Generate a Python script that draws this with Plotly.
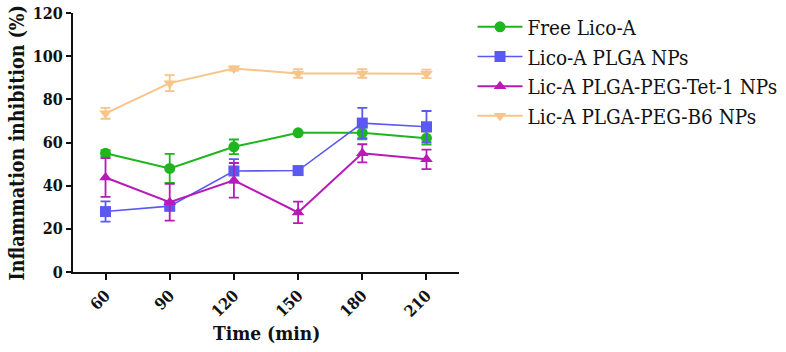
import plotly.graph_objects as go

time_min = [60, 90, 120, 150, 180, 210]
x_tick_labels = ["60", "90", "120", "150", "180", "210"]

free_lico = [55.0, 48.0, 58.0, 64.5, 64.5, 62.0]
free_lico_err = [1.5, 6.7, 3.4, 0.0, 3.0, 3.0]

lico_plga = [28.0, 30.5, 46.8, 47.0, 69.0, 67.3]
lico_plga_err = [4.7, 2.0, 5.5, 0.0, 7.0, 7.3]

tet1 = [43.8, 32.3, 42.5, 27.6, 55.0, 52.2]
tet1_err = [9.0, 8.5, 8.0, 5.0, 4.2, 4.5]

b6 = [73.5, 87.5, 94.3, 92.0, 92.0, 91.8]
b6_err = [2.5, 3.7, 1.0, 2.0, 2.0, 2.0]

series = [
    ("Free Lico-A", free_lico, free_lico_err, "#1fb51f", "circle", 2.0),
    ("Lico-A PLGA NPs", lico_plga, lico_plga_err, "#5a5af2", "square", 1.6),
    ("Lic-A PLGA-PEG-Tet-1 NPs", tet1, tet1_err, "#b81ab8", "triangle-up", 2.0),
    ("Lic-A PLGA-PEG-B6 NPs", b6, b6_err, "#f7c48a", "triangle-down", 2.0),
]

SERIF = "DejaVu Serif Condensed"

fig = go.Figure()
for i, (name, vals, errs, color, sym, lw) in enumerate(series):
    fig.add_trace(go.Scatter(
        x=time_min, y=vals, name=name, mode="lines+markers",
        legendgroup=f"g{i}",
        line=dict(color=color, width=lw),
        marker=dict(symbol=sym, size=11, color=color),
        error_y=dict(type="data", array=errs, visible=True, color=color,
                     thickness=1.8, width=5),
    ))

fig.update_layout(
    width=786, height=352,
    margin=dict(l=73, r=327, t=13, b=80, autoexpand=False),
    paper_bgcolor="white", plot_bgcolor="white",
    font=dict(family=SERIF, color="#111111"),
    showlegend=True,
    legend=dict(x=1.035, xanchor="left", xref="paper", y=1.023, yanchor="top",
                font=dict(family=SERIF, size=20.5, color="#111111"),
                bgcolor="rgba(0,0,0,0)", tracegroupgap=0, itemwidth=45),
    xaxis=dict(
        range=[44.8, 225.2], tickmode="array", tickvals=time_min,
        ticktext=x_tick_labels, tickangle=-45, automargin=False,
        showline=True, linecolor="#111111", linewidth=2,
        ticks="outside", ticklen=6, tickwidth=2, tickcolor="#111111",
        showgrid=False, zeroline=False,
        tickfont=dict(family=SERIF, size=16, color="#111111", weight="bold"),
    ),
    yaxis=dict(
        range=[0, 120], tickmode="array", tickvals=[0, 20, 40, 60, 80, 100, 120],
        showline=True, linecolor="#111111", linewidth=2, automargin=False,
        ticks="outside", ticklen=5, tickwidth=2, tickcolor="#111111",
        showgrid=False, zeroline=False,
        tickfont=dict(family=SERIF, size=16, color="#111111", weight="bold"),
    ),
    annotations=[
        dict(text="<b>Time (min)</b>", xref="paper", yref="paper",
             x=0.5, y=-0.235, xanchor="center", yanchor="middle", showarrow=False,
             font=dict(family=SERIF, size=19, color="#111111")),
        dict(text="<b>Inflammation inhibition (%)</b>", xref="paper", yref="paper",
             x=-0.1425, y=0.5, xanchor="center", yanchor="middle", showarrow=False,
             textangle=-90, font=dict(family=SERIF, size=19.5, color="#111111")),
    ],
)

fig.write_html("out.html", config={"displayModeBar": False},
               post_script="document.body.style.margin='0';")
